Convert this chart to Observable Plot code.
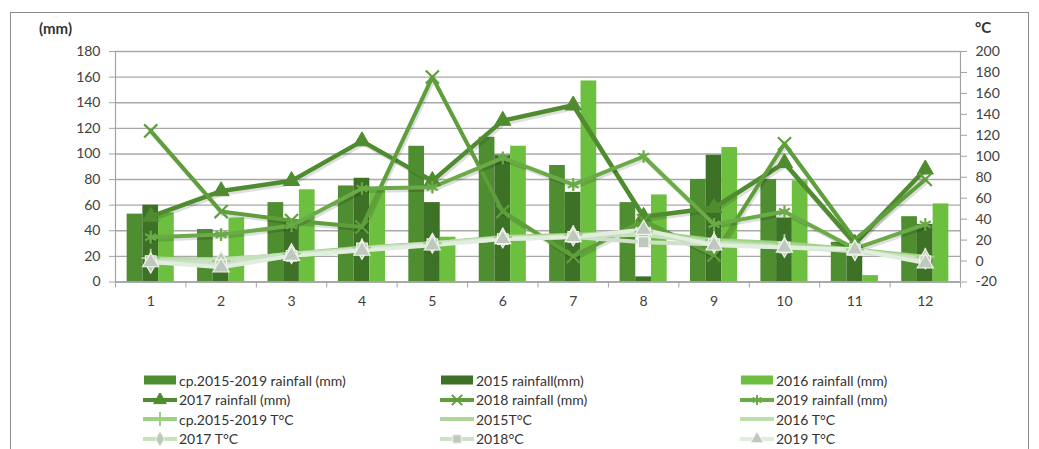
<!DOCTYPE html>
<html>
<head>
<meta charset="utf-8">
<script src="https://cdn.jsdelivr.net/npm/d3@7"></script>
<script src="https://cdn.jsdelivr.net/npm/@observablehq/plot@0.6"></script>
<style>
  html, body { margin: 0; padding: 0; background: #fff; overflow: hidden; }
  body { width: 1039px; height: 449px; position: relative; font-family: Lato, "Noto Sans", sans-serif; color: #404040; }
  #frame { position: absolute; left: 10px; top: 12px; width: 1019px; height: 460px; border: 1px solid #8c8c8c; box-sizing: border-box; }
  #chart { position: absolute; left: 0; top: 0; }
  .unit { position: absolute; font-weight: bold; font-size: 15px; color: #333; }
  #legend { position: absolute; left: 0; top: 371px; width: 1039px; }
  .item { position: absolute; display: flex; align-items: center; font-size: 14px; color: #333; white-space: nowrap; height: 18px; }
  .item svg { margin-right: 2px; }
</style>
</head>
<body>
<div id="frame"></div>
<div id="chart"></div>
<div class="unit" style="left:39px; top:19px;">(mm)</div>
<div class="unit" style="left:975px; top:18px;">°C</div>
<div id="legend"></div>
<script>
// Months on the x axis
const months = [1, 2, 3, 4, 5, 6, 7, 8, 9, 10, 11, 12];

// Monthly rainfall, mm (left axis)
const rainCp   = [53, 41, 62, 75, 106, 113, 91, 62, 80, 80, 31, 51];
const rain2015 = [60, 10, 48, 81, 62, 99, 70, 4, 99, 50, 20, 45];
const rain2016 = [54, 50, 72, 72, 35, 106, 157, 68, 105, 79, 5, 61];
const rain2017 = [51, 71, 79, 110, 79, 126, 138, 51, 58, 93, 30, 88];
const rain2018 = [118, 55, 48, 43, 160, 55, 20, 48, 21, 108, 33, 80];
const rain2019 = [35, 37, 44, 73, 74, 97, 76, 98, 45, 55, 26, 45];

// Monthly mean temperature, °C (right axis)
const tempCp   = [3, 0, 7, 13, 17, 23, 25, 28, 20, 17, 11, 4];
const temp2015 = [2, 1, 6, 12, 17, 22, 24, 26, 19, 15, 10, 3];
const temp2016 = [1, 2, 6, 12, 16, 21, 24, 25, 18, 14, 9, 2];
const temp2017 = [-2, 0, 7, 11, 17, 22, 24, 25, 17, 13, 10, 2];
const temp2018 = [0, -4, 5, 12, 16, 21, 23, 18, 16, 13, 11, 0];
const temp2019 = [-1, -6, 5, 10, 15, 21, 23, 30, 15, 13, 11, -2];

// Axis ticks
const rainTicks = [0, 20, 40, 60, 80, 100, 120, 140, 160, 180];
const tempTicks = [-20, 0, 20, 40, 60, 80, 100, 120, 140, 160, 180, 200];

// Series definitions
const barSeries = [
  {name: "cp.2015-2019 rainfall (mm)", values: rainCp,   color: "#4f8d31"},
  {name: "2015 rainfall(mm)",          values: rain2015, color: "#3c7126"},
  {name: "2016 rainfall (mm)",         values: rain2016, color: "#6cbf3f"}
];
const rainLines = [
  {name: "2017 rainfall (mm)", values: rain2017, color: "#4f8c2f", symbol: "triangle", width: 4.5},
  {name: "2018 rainfall (mm)", values: rain2018, color: "#5e9f3b", symbol: "times",    width: 4},
  {name: "2019 rainfall (mm)", values: rain2019, color: "#6aab47", symbol: "asterisk", width: 4}
];
const tempLines = [
  {name: "cp.2015-2019 T°C", values: tempCp,   color: "#9dd081", symbol: "plus"},
  {name: "2015T°C",          values: temp2015, color: "#acd799", symbol: null},
  {name: "2016 T°C",         values: temp2016, color: "#bbdead", symbol: null},
  {name: "2017 T°C",         values: temp2017, color: "#c6e2bd", symbol: "diamond"},
  {name: "2018°C",           values: temp2018, color: "#cfdfcb", symbol: "square"},
  {name: "2019 T°C",         values: temp2019, color: "#e1eede", symbol: "triangle"}
];

// Temperatures share the plot's y scale through a linear map onto the rainfall domain
const tempToRain = d3.scaleLinear([-20, 200], [0, 180]);

// Bars sit side by side inside each month
const barWidth = 0.223;
const barRows = barSeries.flatMap((s, k) => months.map((m, i) => ({
  series: s.name, color: s.color,
  x1: m + (k - 1.5) * barWidth, x2: m + (k - 0.5) * barWidth, value: s.values[i]
})));
const rainRows = rainLines.flatMap(s => months.map((m, i) => ({series: s.name, month: m, value: s.values[i]})));
const tempRows = tempLines.flatMap(s => months.map((m, i) => ({series: s.name, month: m, value: tempToRain(s.values[i])})));

const boundaries = [0.5, ...months.map(m => m + 0.5)];
const axisGray = "#a3a3a3";

const marks = [
  Plot.gridY(rainTicks, {stroke: "#a8a8a8", strokeOpacity: 1, strokeWidth: 1.4}),
  Plot.rectY(barRows, {x1: "x1", x2: "x2", y: "value", fill: "color"}),
  Plot.ruleX([0.5], {stroke: axisGray, strokeWidth: 1.2}),
  Plot.ruleX([12.5], {stroke: axisGray, strokeWidth: 1.2}),
  Plot.ruleY([0], {stroke: axisGray, strokeWidth: 1.4}),
  Plot.axisY(rainTicks, {anchor: "left", tickSize: 6, tickPadding: 9, stroke: axisGray, fill: "#404040", label: null}),
  Plot.axisY(tempTicks.map(tempToRain), {anchor: "right", tickSize: 6, tickPadding: 9, stroke: axisGray, fill: "#404040", label: null,
    tickFormat: d => String(Math.round(tempToRain.invert(d)))}),
  Plot.axisX(boundaries, {tickSize: 6, stroke: axisGray, tickFormat: () => "", label: null}),
  Plot.axisX(months, {tickSize: 0, tickPadding: 14, fill: "#404040", label: null})
];

// rainfall lines, each with a soft offset shadow beneath
for (const s of rainLines) {
  const rows = rainRows.filter(d => d.series === s.name);
  marks.push(Plot.line(rows, {x: "month", y: "value", dx: 1.5, dy: 2.5, stroke: "#000", strokeOpacity: 0.13,
    strokeWidth: s.width, strokeLinejoin: "round"}));
  marks.push(Plot.line(rows, {x: "month", y: "value", stroke: s.color, strokeWidth: s.width, strokeLinejoin: "round"}));
}
for (const s of rainLines) {
  const rows = rainRows.filter(d => d.series === s.name);
  const filled = s.symbol === "triangle";
  marks.push(Plot.dot(rows, {x: "month", y: "value", symbol: s.symbol, r: 6,
    fill: filled ? s.color : "none", stroke: s.color, strokeWidth: filled ? 1 : 2.2}));
}
for (const s of tempLines) {
  const rows = tempRows.filter(d => d.series === s.name);
  marks.push(Plot.line(rows, {x: "month", y: "value", stroke: s.color, strokeWidth: 4, strokeLinejoin: "round"}));
}
for (const s of tempLines) {
  if (!s.symbol) continue;
  const rows = tempRows.filter(d => d.series === s.name);
  const stroked = s.symbol === "plus";
  marks.push(Plot.dot(rows, {x: "month", y: "value", symbol: s.symbol, r: 6,
    fill: stroked ? "none" : "#bfc8bd", stroke: stroked ? s.color : "#eef4ec", strokeWidth: stroked ? 2 : 1.2}));
}

const chart = Plot.plot({
  width: 1039,
  height: 335,
  marginLeft: 115,
  marginRight: 79,
  marginTop: 51,
  marginBottom: 53.5,
  x: {type: "linear", domain: [0.5, 12.5]},
  y: {domain: [0, 180]},
  style: {fontFamily: "Lato, 'Noto Sans', sans-serif", fontSize: "14px", color: "#404040", background: "transparent", overflow: "visible"},
  marks
});
document.getElementById("chart").appendChild(chart);

// Legend: three columns, four rows, below the chart
const legend = document.getElementById("legend");
const colX = [143, 440, 740];
const rowY = [0, 19.5, 39, 58.5];
const symbolMap = {triangle: d3.symbolTriangle, times: d3.symbolTimes, asterisk: d3.symbolAsterisk,
                   plus: d3.symbolPlus, diamond: d3.symbolDiamond, square: d3.symbolSquare};
const items = [
  ...barSeries.map(s => ({...s, kind: "bar"})),
  ...rainLines.map(s => ({...s, kind: "line"})),
  ...tempLines.map(s => ({...s, kind: "line", temp: true}))
];
items.forEach((s, idx) => {
  const div = document.createElement("div");
  div.className = "item";
  div.style.left = colX[idx % 3] + "px";
  div.style.top = rowY[Math.floor(idx / 3)] + "px";
  const svg = d3.create("svg").attr("width", 34).attr("height", 14);
  if (s.kind === "bar") {
    svg.append("rect").attr("x", 1).attr("y", 2.5).attr("width", 32).attr("height", 9).attr("fill", s.color);
  } else {
    svg.append("line").attr("x1", 0).attr("x2", 34).attr("y1", 7).attr("y2", 7)
      .attr("stroke", s.color).attr("stroke-width", 4);
    if (s.symbol) {
      const strokedSym = ["times", "asterisk", "plus"].includes(s.symbol);
      svg.append("path").attr("transform", "translate(17,7)")
        .attr("d", d3.symbol(symbolMap[s.symbol], 70)())
        .attr("fill", strokedSym ? "none" : (s.temp ? "#bfc8bd" : s.color))
        .attr("stroke", strokedSym ? s.color : (s.temp ? "#eef4ec" : s.color))
        .attr("stroke-width", strokedSym ? 2 : 1);
    }
  }
  div.appendChild(svg.node());
  const span = document.createElement("span");
  span.textContent = s.name;
  div.appendChild(span);
  legend.appendChild(div);
});
</script>
</body>
</html>
